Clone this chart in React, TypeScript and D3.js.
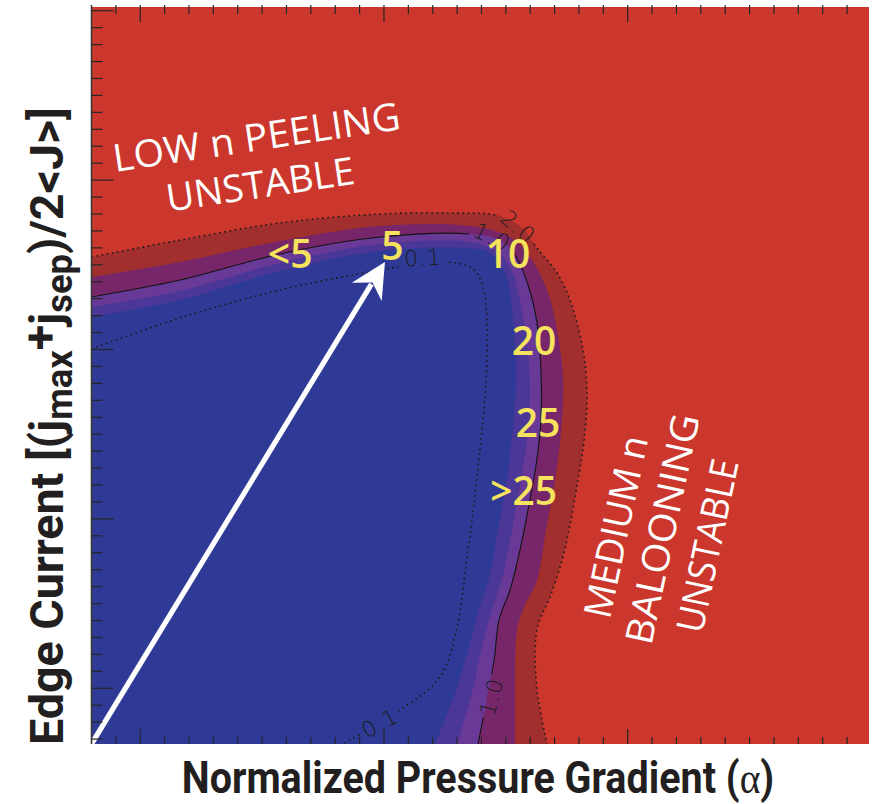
import React from "react";
import * as d3 from "d3";

type P = [number, number];

const W = 877;
const H = 804;
const xDomain: [number, number] = [-0.2, 2.99];
const yDomain: [number, number] = [-0.329, 4.022];

// contour 2.0 (dotted) : outer edge of the dark-red band
const contour20: P[] = [
  [-0.2, 2.546], [0.163, 2.646], [0.573, 2.747], [0.984, 2.8], [1.271, 2.806],
  [1.476, 2.788], [1.567, 2.717], [1.628, 2.599], [1.71, 2.452], [1.763, 2.292],
  [1.817, 1.997], [1.833, 1.731], [1.821, 1.466], [1.796, 1.23], [1.763, 0.964],
  [1.731, 0.757], [1.681, 0.539], [1.632, 0.374], [1.62, 0.226], [1.628, -0.01],
  [1.644, -0.158], [1.669, -0.329],
];
// level 1.5 : dark-red / magenta edge
const contour15: P[] = [
  [-0.2, 2.428], [0.163, 2.517], [0.573, 2.64], [0.984, 2.729], [1.353, 2.729],
  [1.517, 2.664], [1.599, 2.546], [1.669, 2.351], [1.71, 2.115], [1.735, 1.82],
  [1.727, 1.525], [1.702, 1.23], [1.665, 0.934], [1.628, 0.639], [1.579, 0.492],
  [1.546, 0.344], [1.538, 0.049], [1.538, -0.329],
];
// contour 1.0 (solid) : magenta / purple edge
const contour10: P[] = [
  [-0.2, 2.31], [0.163, 2.41], [0.573, 2.564], [0.984, 2.664], [1.353, 2.682],
  [1.476, 2.646], [1.538, 2.558], [1.591, 2.381], [1.628, 2.156], [1.644, 1.879],
  [1.644, 1.584], [1.624, 1.318], [1.591, 1.053], [1.558, 0.816], [1.517, 0.58],
  [1.472, 0.403], [1.452, 0.167], [1.427, -0.028], [1.386, -0.329],
];
// level 0.7 : purple / blue-purple edge
const contour07: P[] = [
  [-0.2, 2.251], [0.163, 2.345], [0.573, 2.511], [0.984, 2.623], [1.353, 2.635],
  [1.456, 2.587], [1.517, 2.487], [1.558, 2.292], [1.587, 2.027], [1.599, 1.761],
  [1.587, 1.466], [1.562, 1.23], [1.525, 0.934], [1.489, 0.669], [1.456, 0.521],
  [1.423, 0.362], [1.39, 0.167], [1.361, -0.028], [1.3, -0.329],
];
// level 0.5 : blue-purple / blue edge
const contour05: P[] = [
  [-0.2, 2.192], [0.163, 2.292], [0.573, 2.463], [0.984, 2.582], [1.333, 2.599],
  [1.435, 2.57], [1.497, 2.458], [1.525, 2.233], [1.542, 1.938], [1.538, 1.702],
  [1.505, 1.23], [1.468, 0.934], [1.435, 0.669], [1.402, 0.521], [1.37, 0.362],
  [1.333, 0.167], [1.292, -0.028], [1.21, -0.329],
];
// contour 0.1 (dotted)
const contour01: P[] = [
  [-0.2, 2.003], [0.163, 2.186], [0.573, 2.351], [0.984, 2.469], [1.148, 2.505],
  [1.296, 2.511], [1.37, 2.469], [1.407, 2.369], [1.423, 2.156], [1.419, 1.82],
  [1.394, 1.407], [1.361, 0.994], [1.337, 0.728], [1.3, 0.362], [1.23, 0.067],
  [1.066, -0.128], [0.832, -0.329],
];

const bandColors = ["#A12F2E", "#772669", "#693997", "#4B3797", "#2F3A96"];
const backgroundColor = "#CB372C";

const xTickValues = d3.range(-1, 30).map((i) => i / 10);
const yTickValues = d3.range(-3, 41).map((i) => i / 10);

const arrowFrom: P = [-0.2, -0.329];
const arrowTo: P = [1.004, 2.517];

const contourLabels = [
  { text: "2.0", x: 1.55, y: 2.723, angle: 41 },
  { text: "1.0", x: 1.443, y: 2.664, angle: 25 },
  { text: "0.1", x: 1.16, y: 2.54, angle: -3 },
  { text: "1.0", x: 1.442, y: -0.051, angle: -75 },
  { text: "0.1", x: 0.984, y: -0.207, angle: -28 },
];

const growthLabels = [
  { text: "<5", x: 0.615, y: 2.481 },
  { text: "5", x: 1.035, y: 2.528 },
  { text: "10", x: 1.509, y: 2.481 },
  { text: "20", x: 1.616, y: 1.968 },
  { text: "25", x: 1.632, y: 1.483 },
  { text: ">25", x: 1.573, y: 1.082 },
];

const regionLabels = [
  { text: "LOW n PEELING", x: 0.485, y: 3.175, angle: -8.5, len: 290 },
  { text: "UNSTABLE", x: 0.5, y: 2.896, angle: -8.5, len: 190 },
  { text: "MEDIUM n", x: 2.005, y: 0.937, angle: -78, len: 185 },
  { text: "BALOONING", x: 2.196, y: 0.924, angle: -78, len: 234 },
  { text: "UNSTABLE", x: 2.381, y: 0.825, angle: -78, len: 176 },
];

const isMajor = (v: number) => Math.abs(v - Math.round(v)) < 1e-6;

export default function App() {
  const x = d3.scaleLinear().domain(xDomain).range([91.5, 869]);
  const y = d3.scaleLinear().domain(yDomain).range([744, 7]);
  const left = x(xDomain[0]);
  const right = x(xDomain[1]);
  const top = y(yDomain[1]);
  const bottom = y(yDomain[0]);

  const line = d3
    .line<P>()
    .x((d) => x(d[0]))
    .y((d) => y(d[1]))
    .curve(d3.curveCatmullRom.alpha(0.5));

  const bandPath = (edge: P[]) => `${line(edge)}L${left},${bottom}Z`;
  const bandEdges = [contour20, contour15, contour10, contour07, contour05];

  // arrow
  const sx = x(arrowFrom[0]);
  const sy = y(arrowFrom[1]);
  const tx = x(arrowTo[0]);
  const ty = y(arrowTo[1]);
  const L = Math.hypot(tx - sx, ty - sy);
  const ux = (tx - sx) / L;
  const uy = (ty - sy) / L;
  const nx = -uy;
  const ny = ux;
  const headLen = 35;
  const headHalf = 17.5;
  const notch = 24;
  const head = [
    [tx, ty],
    [tx - headLen * ux + headHalf * nx, ty - headLen * uy + headHalf * ny],
    [tx - notch * ux, ty - notch * uy],
    [tx - headLen * ux - headHalf * nx, ty - headLen * uy - headHalf * ny],
  ];

  const sans = "'Open Sans', 'Noto Sans', sans-serif";
  const cond = "'Liberation Sans Narrow', 'Roboto', 'Liberation Sans', sans-serif";

  return (
    <svg
      width={W}
      height={H}
      viewBox={`0 0 ${W} ${H}`}
      style={{ position: "absolute", left: 0, top: 0, display: "block", background: "#fff" }}
    >
      <defs>
        <clipPath id="plotClip">
          <rect x={left} y={top} width={right - left} height={bottom - top} />
        </clipPath>
        <mask id="labelGaps" maskUnits="userSpaceOnUse" x={0} y={0} width={W} height={H}>
          <rect x={0} y={0} width={W} height={H} fill="white" />
          {contourLabels.map((l, i) => (
            <rect
              key={i}
              x={-22}
              y={-11}
              width={44}
              height={22}
              fill="black"
              transform={`translate(${x(l.x)},${y(l.y)}) rotate(${l.angle})`}
            />
          ))}
        </mask>
      </defs>

      <g clipPath="url(#plotClip)">
        <rect x={left} y={top} width={right - left} height={bottom - top} fill={backgroundColor} />
        {bandEdges.map((edge, i) => (
          <path key={i} d={bandPath(edge)} fill={bandColors[i]} />
        ))}
        <g mask="url(#labelGaps)" fill="none">
          <path
            d={line(contour20) || ""}
            stroke="#1a1a1a"
            strokeWidth={1.6}
            strokeDasharray="1.6 3.6"
          />
          <path d={line(contour10) || ""} stroke="#141414" strokeWidth={1.1} />
          <path
            d={line(contour01) || ""}
            stroke="#1a1a1a"
            strokeWidth={1.6}
            strokeDasharray="1.6 3.6"
          />
        </g>
        {contourLabels.map((l, i) => (
          <text
            key={i}
            transform={`translate(${x(l.x)},${y(l.y)}) rotate(${l.angle})`}
            textAnchor="middle"
            dominantBaseline="central"
            fontFamily="'DejaVu Sans', sans-serif"
            fontWeight={300}
            fontSize={22}
            letterSpacing={1}
            fill="#1c1c1c"
          >
            {l.text}
          </text>
        ))}
        {/* arrow */}
        <line
          x1={sx}
          y1={sy}
          x2={tx - (notch + 2) * ux}
          y2={ty - (notch + 2) * uy}
          stroke="#fff"
          strokeWidth={5.2}
        />
        <path d={`M${head.map((p) => p.join(",")).join("L")}Z`} fill="#fff" />
      </g>

      {/* growth-rate labels */}
      {growthLabels.map((l, i) => (
        <text
          key={i}
          x={x(l.x)}
          y={y(l.y)}
          textAnchor="middle"
          fontFamily={sans}
          fontWeight={600}
          fontSize={39}
          fill="#F5E35E"
        >
          {l.text}
        </text>
      ))}

      {/* region labels */}
      {regionLabels.map((l, i) => (
        <text
          key={i}
          transform={`translate(${x(l.x)},${y(l.y)}) rotate(${l.angle})`}
          textAnchor="middle"
          fontFamily={sans}
          fontWeight={500}
          fontSize={38}
          fill="#fff"
          textLength={l.len}
          lengthAdjust="spacingAndGlyphs"
        >
          {l.text}
        </text>
      ))}

      {/* axes */}
      <line x1={left} y1={top - 2} x2={left} y2={bottom} stroke="#3a3a3a" strokeWidth={1.6} />
      <g stroke="#262626" strokeWidth={1.2}>
        {xTickValues.map((v, i) => {
          const px = x(v);
          const len = isMajor(v) ? 15 : 7;
          return (
            <g key={i}>
              <line x1={px} x2={px} y1={top - 2} y2={top + len} />
              <line x1={px} x2={px} y1={bottom} y2={bottom - len} />
            </g>
          );
        })}
        {yTickValues.map((v, i) => {
          const py = y(v);
          const len = isMajor(v) ? 22 : 11;
          return <line key={i} x1={left} x2={left + len} y1={py} y2={py} />;
        })}
      </g>

      {/* axis titles */}
      <text
        transform="translate(478,793) scale(0.878,1)"
        textAnchor="middle"
        fontFamily={cond}
        fontWeight="bold"
        fontSize={45}
        fill="#231F20"
      >
        {"Normalized Pressure Gradient ("}
        <tspan fontFamily="'Liberation Serif', serif" fontWeight="normal">
          α
        </tspan>
        {")"}
      </text>
      <text
        transform="translate(63,426) rotate(-90)"
        textAnchor="middle"
        fontFamily={cond}
        fontWeight="bold"
        fontSize={46}
        fill="#231F20"
        textLength={638}
        lengthAdjust="spacingAndGlyphs"
      >
        Edge Current [(j
        <tspan fontSize={36} dy={9}>
          max
        </tspan>
        <tspan dy={-16}>+</tspan>
        <tspan dy={7}>j</tspan>
        <tspan fontSize={36} dy={9}>
          sep
        </tspan>
        <tspan dy={-9}>{")/2<J>]"}</tspan>
      </text>
    </svg>
  );
}
